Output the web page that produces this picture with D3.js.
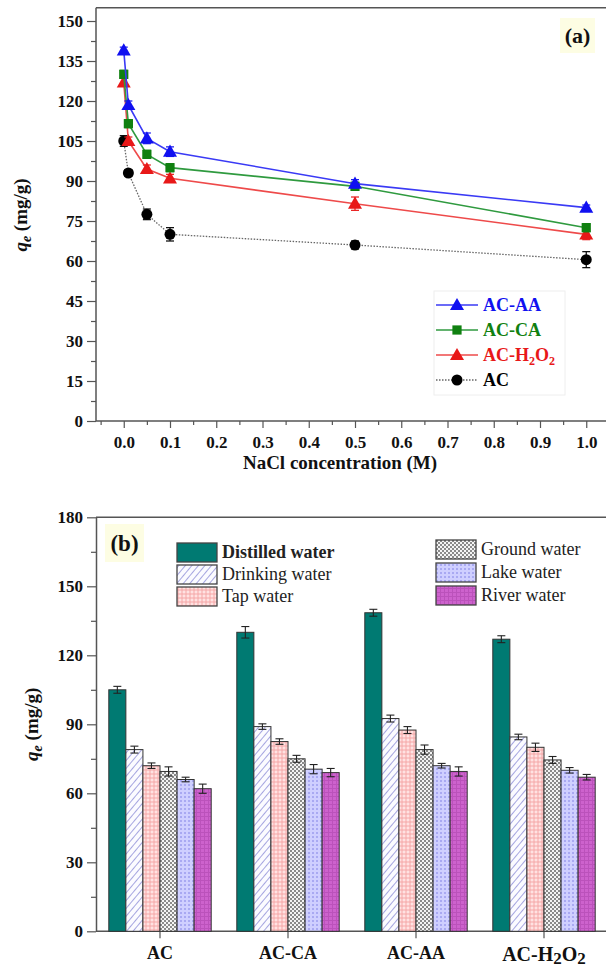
<!DOCTYPE html>
<html>
<head>
<meta charset="utf-8">
<script src="https://cdn.jsdelivr.net/npm/d3@7"></script>
<style>
  html, body { margin: 0; padding: 0; background: #fff; }
  svg { display: block; }
</style>
</head>
<body>
<svg id="chart" width="606" height="967" font-family="Liberation Serif"></svg>
<script>
// ---- (a) adsorption capacity vs NaCl concentration ----
const nacl = [0, 0.01, 0.05, 0.1, 0.5, 1.0];
const xTicksA = [0, 0.1, 0.2, 0.3, 0.4, 0.5, 0.6, 0.7, 0.8, 0.9, 1.0];
const yTicksA = [0, 15, 30, 45, 60, 75, 90, 105, 120, 135, 150];

const qeAA   = [139, 118.5, 106, 101, 89, 80];
const errAA  = [1.2, 1.5, 2.0, 1.8, 1.5, 1.0];
const qeCA   = [130, 111.5, 100, 95, 88, 72.5];
const errCA  = [1.5, 1.5, 1.5, 1.5, 1.5, 1.5];
const qeH2O2 = [127, 105, 94.5, 91, 81.5, 70];
const errH2O2= [1.5, 1.5, 1.5, 1.5, 2.5, 2.0];
const qeAC   = [105, 93, 77.5, 70, 66, 60.5];
const errAC  = [2.0, 1.2, 2.0, 2.5, 1.5, 3.0];

// ---- (b) adsorption capacity in different water matrices ----
const sorbents = ["AC", "AC-CA", "AC-AA", "AC-H2O2"];
const waters = ["Distilled water", "Drinking water", "Tap water", "Ground water", "Lake water", "River water"];
const distilled = [105, 130, 138.5, 127];
const drinking  = [79, 89, 92.5, 84.5];
const tap       = [72, 82.5, 87.5, 80];
const ground    = [69.5, 75, 79, 74.5];
const lake      = [66, 70.5, 72, 70];
const river     = [62, 69, 69.5, 67];
const errDistilled = [1.5, 2.5, 1.5, 1.5];
const errDrinking  = [1.5, 1.2, 1.5, 1.2];
const errTap       = [1.2, 1.2, 1.5, 1.8];
const errGround    = [2.0, 1.5, 2.0, 1.5];
const errLake      = [1.0, 2.0, 1.0, 1.2];
const errRiver     = [2.0, 1.8, 2.0, 1.2];
const yTicksB = [0, 30, 60, 90, 120, 150, 180];

const svg = d3.select("#chart");
const axisColor = "#555";

// ---------- patterns for the bar fills ----------
const defs = svg.append("defs");
function pattern(id, w, h, draw, transform) {
  const p = defs.append("pattern").attr("id", id)
    .attr("patternUnits", "userSpaceOnUse").attr("width", w).attr("height", h);
  if (transform) p.attr("patternTransform", transform);
  draw(p);
}
pattern("pDrink", 5, 5, p => {
  p.append("rect").attr("width", 5).attr("height", 5).attr("fill", "#fbfbff");
  p.append("line").attr("x1", 0).attr("y1", 0).attr("x2", 0).attr("y2", 5)
    .attr("stroke", "#8f8fd8").attr("stroke-width", 1.6);
}, "rotate(40)");
pattern("pTap", 4, 4, p => {
  p.append("rect").attr("width", 4).attr("height", 4).attr("fill", "#ffe2e2");
  p.append("circle").attr("cx", 2).attr("cy", 2).attr("r", 1.2)
    .attr("fill", "none").attr("stroke", "#f08a8a").attr("stroke-width", 0.7);
});
pattern("pGround", 4, 4, p => {
  p.append("rect").attr("width", 4).attr("height", 4).attr("fill", "#f4f4f4");
  p.append("rect").attr("width", 2).attr("height", 2).attr("fill", "#8a8a8a");
  p.append("rect").attr("x", 2).attr("y", 2).attr("width", 2).attr("height", 2).attr("fill", "#8a8a8a");
});
pattern("pLake", 4, 4, p => {
  p.append("rect").attr("width", 4).attr("height", 4).attr("fill", "#cfcfff");
  p.append("rect").attr("width", 2).attr("height", 2).attr("fill", "#a9a9f2");
});
pattern("pRiver", 4, 4, p => {
  p.append("rect").attr("width", 4).attr("height", 4).attr("fill", "#cd62cd");
  p.append("rect").attr("width", 1).attr("height", 4).attr("fill", "#bb52bb");
  p.append("rect").attr("width", 4).attr("height", 1).attr("fill", "#bb52bb");
});
const waterFill = ["#007a72", "url(#pDrink)", "url(#pTap)", "url(#pGround)", "url(#pLake)", "url(#pRiver)"];

// ===================== Panel (a) =====================
const xA = d3.scaleLinear().domain([-0.06, 1.06]).range([96, 614]);
const yA = d3.scaleLinear().domain([0, 155]).range([421, 7.67]);
const gA = svg.append("g");

// frame: top border
gA.append("line").attr("x1", xA(-0.06)).attr("x2", 606).attr("y1", yA(155)).attr("y2", yA(155))
  .attr("stroke", axisColor).attr("stroke-width", 1.5);

// y axis
const yAxisA = gA.append("g").attr("transform", `translate(${xA(-0.06)},0)`)
  .call(d3.axisLeft(yA).tickValues(yTicksA).tickSize(9).tickSizeOuter(0).tickPadding(4));
gA.append("g").attr("transform", `translate(${xA(-0.06)},0)`)
  .call(d3.axisLeft(yA).tickValues(d3.range(7.5, 155, 15)).tickSize(5).tickFormat("").tickSizeOuter(0))
  .select(".domain").remove();
yAxisA.select(".domain").attr("d", `M0,${yA(0)}V${yA(155)}`);

// x axis
const xAxisA = gA.append("g").attr("transform", `translate(0,${yA(0)})`)
  .call(d3.axisBottom(xA).tickValues(xTicksA).tickSize(7).tickSizeOuter(0).tickPadding(8).tickFormat(d3.format(".1f")));
gA.append("g").attr("transform", `translate(0,${yA(0)})`)
  .call(d3.axisBottom(xA).tickValues(d3.range(-0.05, 1.06, 0.1)).tickSize(4).tickFormat("").tickSizeOuter(0))
  .select(".domain").remove();
xAxisA.select(".domain").attr("d", `M${xA(-0.06)},0H606`);

[yAxisA, xAxisA].forEach(a => {
  a.selectAll(".domain").attr("stroke", axisColor).attr("stroke-width", 1.5);
  a.selectAll("text").attr("font-weight", "bold").attr("font-size", 17).attr("fill", "#111");
});
gA.selectAll(".tick line").attr("stroke", axisColor).attr("stroke-width", 1.2);

// y title
const yTitleA = gA.append("text").attr("transform", `translate(27,${(yA(0) + yA(150)) / 2 - 6}) rotate(-90)`)
  .attr("text-anchor", "middle").attr("font-weight", "bold").attr("font-size", 19).attr("fill", "#111");
yTitleA.append("tspan").attr("font-style", "italic").text("q");
yTitleA.append("tspan").attr("font-style", "italic").attr("font-size", 14).attr("dy", 4).text("e");
yTitleA.append("tspan").attr("dy", -4).text(" (mg/g)");

// x title
gA.append("text").attr("x", 340).attr("y", 469).attr("text-anchor", "middle")
  .attr("font-weight", "bold").attr("font-size", 19).attr("fill", "#111")
  .text("NaCl concentration (M)");

// series
const seriesA = [
  { name: "AC-AA", vals: qeAA, err: errAA, color: "#1010f0", line: "#3a3af5", marker: "triangle", dash: null },
  { name: "AC-CA", vals: qeCA, err: errCA, color: "#108010", line: "#2f9a3f", marker: "square", dash: null },
  { name: "AC-H2O2", vals: qeH2O2, err: errH2O2, color: "#e81818", line: "#ee4a4a", marker: "triangle", dash: null },
  { name: "AC", vals: qeAC, err: errAC, color: "#000", line: "#666", marker: "circle", dash: "1.5,1.5" }
];
const symA = { triangle: d3.symbolTriangle, square: d3.symbolSquare, circle: d3.symbolCircle };
const symSize = { triangle: 85, square: 85, circle: 95 };

// drawing order: AC underneath, AC-AA on top
[...seriesA].reverse().forEach(s => {
  const pts = nacl.map((c, i) => ({ x: c, y: s.vals[i], e: s.err[i] }));
  gA.append("path").datum(pts)
    .attr("d", d3.line().x(d => xA(d.x)).y(d => yA(d.y)))
    .attr("fill", "none").attr("stroke", s.line).attr("stroke-width", s.dash ? 1.3 : 1.6)
    .attr("stroke-dasharray", s.dash);
  const eb = gA.append("g");
  pts.forEach(d => {
    const x = xA(d.x), y1 = yA(d.y - d.e), y2 = yA(d.y + d.e);
    eb.append("line").attr("x1", x).attr("x2", x).attr("y1", y1).attr("y2", y2).attr("stroke", s.color).attr("stroke-width", 1.2);
    [y1, y2].forEach(yy => eb.append("line").attr("x1", x - 4).attr("x2", x + 4).attr("y1", yy).attr("y2", yy)
      .attr("stroke", s.color).attr("stroke-width", 1.2));
  });
  gA.append("g").selectAll("path").data(pts).join("path")
    .attr("transform", d => `translate(${xA(d.x)},${yA(d.y) + (s.marker === "triangle" ? 1 : 0)})`)
    .attr("d", d3.symbol().type(symA[s.marker]).size(symSize[s.marker]))
    .attr("fill", s.color);
});

// legend (a)
const legA = gA.append("g");
legA.append("rect").attr("x", 434).attr("y", 291).attr("width", 131).attr("height", 104)
  .attr("fill", "#fff").attr("stroke", "#eee").attr("stroke-width", 1);
seriesA.forEach((s, i) => {
  const y = 305 + i * 25;
  legA.append("line").attr("x1", 436).attr("x2", 478).attr("y1", y).attr("y2", y)
    .attr("stroke", s.line).attr("stroke-width", s.dash ? 1.3 : 1.6).attr("stroke-dasharray", s.dash);
  legA.append("path").attr("transform", `translate(457,${y + (s.marker === "triangle" ? 1 : 0)})`)
    .attr("d", d3.symbol().type(symA[s.marker]).size(symSize[s.marker]))
    .attr("fill", s.color);
  const t = legA.append("text").attr("x", 483).attr("y", y + 6)
    .attr("font-weight", "bold").attr("font-size", 18).attr("fill", s.color);
  if (s.name === "AC-H2O2") {
    t.append("tspan").text("AC-H");
    t.append("tspan").attr("font-size", 12).attr("dy", 4).text("2");
    t.append("tspan").attr("dy", -4).text("O");
    t.append("tspan").attr("font-size", 12).attr("dy", 4).text("2");
  } else {
    t.text(s.name);
  }
});

// panel tag (a)
gA.append("rect").attr("x", 560).attr("y", 18).attr("width", 35).attr("height", 35).attr("fill", "#fdfde3");
gA.append("text").attr("x", 577.5).attr("y", 43).attr("text-anchor", "middle")
  .attr("font-weight", "bold").attr("font-size", 22).attr("fill", "#111").text("(a)");

// ===================== Panel (b) =====================
const xB = d3.scaleBand().domain(sorbents).range([96, 608]).paddingInner(0.2).paddingOuter(0.1);
const subB = d3.scaleBand().domain(waters).range([0, xB.bandwidth()]);
const yB = d3.scaleLinear().domain([0, 180]).range([931.3, 517.3]);
const gB = svg.append("g");

gB.append("line").attr("x1", 96).attr("x2", 606).attr("y1", yB(180)).attr("y2", yB(180))
  .attr("stroke", axisColor).attr("stroke-width", 1.5);

const yAxisB = gB.append("g").attr("transform", "translate(96,0)")
  .call(d3.axisLeft(yB).tickValues(yTicksB).tickSize(9).tickSizeOuter(0).tickPadding(4));
gB.append("g").attr("transform", "translate(96,0)")
  .call(d3.axisLeft(yB).tickValues(d3.range(15, 180, 30)).tickSize(5).tickFormat("").tickSizeOuter(0))
  .select(".domain").remove();

const xAxisB = gB.append("g").attr("transform", `translate(0,${yB(0)})`)
  .call(d3.axisBottom(xB).tickSize(7).tickSizeOuter(0).tickPadding(10).tickFormat(""));
xAxisB.select(".domain").attr("d", "M96,0H606");

[yAxisB, xAxisB].forEach(a => a.selectAll(".domain").attr("stroke", axisColor).attr("stroke-width", 1.5));
yAxisB.selectAll("text").attr("font-weight", "bold").attr("font-size", 17).attr("fill", "#111");
gB.selectAll(".tick line").attr("stroke", axisColor).attr("stroke-width", 1.2);

// category labels
sorbents.forEach(s => {
  const t = gB.append("text").attr("x", xB(s) + xB.bandwidth() / 2).attr("y", 959).attr("text-anchor", "middle")
    .attr("font-weight", "bold").attr("font-size", 18).attr("fill", "#111");
  if (s === "AC-H2O2") {
    t.attr("font-size", 20).attr("y", 961);
    t.append("tspan").text("AC-H");
    t.append("tspan").attr("font-size", 17).attr("dy", 3).text("2");
    t.append("tspan").attr("dy", -3).text("O");
    t.append("tspan").attr("font-size", 17).attr("dy", 3).text("2");
  } else {
    t.text(s);
  }
});

// y title (b)
const yTitleB = gB.append("text").attr("transform", `translate(38,${(yB(0) + yB(180)) / 2}) rotate(-90)`)
  .attr("text-anchor", "middle").attr("font-weight", "bold").attr("font-size", 19).attr("fill", "#111");
yTitleB.append("tspan").attr("font-style", "italic").text("q");
yTitleB.append("tspan").attr("font-style", "italic").attr("font-size", 14).attr("dy", 4).text("e");
yTitleB.append("tspan").attr("dy", -4).text(" (mg/g)");

// bars
const valsB = [distilled, drinking, tap, ground, lake, river];
const errsB = [errDistilled, errDrinking, errTap, errGround, errLake, errRiver];
const barData = [];
sorbents.forEach((s, i) => waters.forEach((w, j) => barData.push({ s, w, j, v: valsB[j][i], e: errsB[j][i] })));

gB.append("g").selectAll("rect").data(barData).join("rect")
  .attr("x", d => xB(d.s) + subB(d.w))
  .attr("y", d => yB(d.v))
  .attr("width", subB.bandwidth())
  .attr("height", d => yB(0) - yB(d.v))
  .attr("fill", d => waterFill[d.j])
  .attr("stroke", "#333").attr("stroke-width", 1);

const ebB = gB.append("g").attr("stroke", "#222").attr("stroke-width", 1.1);
barData.forEach(d => {
  const x = xB(d.s) + subB(d.w) + subB.bandwidth() / 2;
  const y1 = yB(d.v - d.e), y2 = yB(d.v + d.e);
  ebB.append("line").attr("x1", x).attr("x2", x).attr("y1", y1).attr("y2", y2);
  [y1, y2].forEach(yy => ebB.append("line").attr("x1", x - 4).attr("x2", x + 4).attr("y1", yy).attr("y2", yy));
});

// legend (b)
const legB = gB.append("g");
const legPos = [
  { x: 177, y: 543 }, { x: 177, y: 565 }, { x: 177, y: 587 },
  { x: 436, y: 540 }, { x: 436, y: 563 }, { x: 436, y: 586 }
];
waters.forEach((w, j) => {
  const p = legPos[j];
  legB.append("rect").attr("x", p.x).attr("y", p.y).attr("width", 40).attr("height", 19)
    .attr("fill", waterFill[j]).attr("stroke", "#444").attr("stroke-width", 1.3);
  legB.append("text").attr("x", p.x + 45).attr("y", p.y + 15)
    .attr("font-size", 18).attr("fill", "#222")
    .attr("font-weight", j === 0 ? "bold" : "normal").text(w);
});

// panel tag (b)
gB.append("rect").attr("x", 105).attr("y", 524).attr("width", 39).attr("height", 38).attr("fill", "#fdfde3");
gB.append("text").attr("x", 124.5).attr("y", 551).attr("text-anchor", "middle")
  .attr("font-weight", "bold").attr("font-size", 23).attr("fill", "#111").text("(b)");

// every label in the figure uses the serif face
svg.selectAll("text").attr("font-family", "Liberation Serif");
</script>
</body>
</html>
